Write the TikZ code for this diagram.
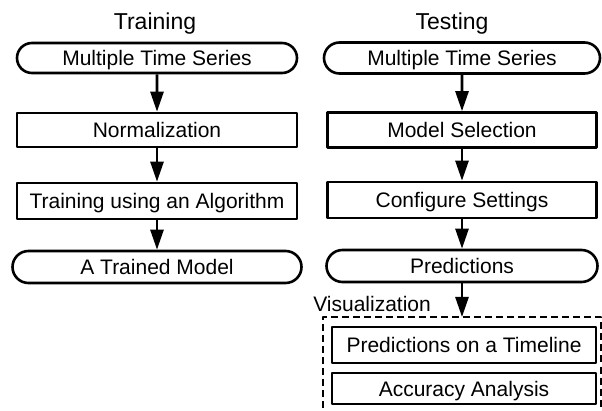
\documentclass[tikz,border=0pt]{standalone}
\usepackage{fontspec}
\setmainfont{Liberation Sans}
\usepackage{tikz}
\usetikzlibrary{positioning,arrows.meta,shapes.misc}
\tikzset{
  boxfont/.style={font=\fontsize{21}{25}\selectfont, text height=15pt, text depth=0pt},
  term/.style={draw, rounded rectangle, inner sep=0pt, boxfont},
  proc/.style={draw, rectangle, inner sep=0pt, boxfont},
  head/.style={font=\fontsize{23}{27}\selectfont, anchor=base},
  flow/.style={-{Triangle[length=20pt, width=13pt]}}
}

\begin{document}
\begin{tikzpicture}[x=1pt, y=-1pt, line width=2.6pt, line join=round]
  \useasboundingbox (0,0) rectangle (602,411);
  \clip (0,0) rectangle (602,411);
  % training column
  \node[head] (train) at (155,30) {Training};
  \node[term, minimum width=280pt, minimum height=30pt] (tin) at (157,58) {Multiple Time Series};
  \node[proc, minimum width=280pt, minimum height=34pt] (norm) at (157,130) {Normalization};
  \node[proc, minimum width=280pt, minimum height=36pt] (algo) at (157,201) {Training using an Algorithm};
  \node[term, minimum width=289pt, minimum height=32pt] (model) at (157,267) {A Trained Model};
  \draw[flow] (tin) -- (norm);
  \draw[flow] (norm) -- (algo);
  \draw[flow] (algo) -- (model);
  % testing column
  \node[head] (test) at (452,30) {Testing};
  \node[term, minimum width=276pt, minimum height=31pt] (sin) at (462,58) {Multiple Time Series};
  \node[proc, minimum width=269pt, minimum height=35pt] (select) at (462,130) {Model Selection};
  \node[proc, minimum width=269pt, minimum height=36pt] (config) at (462,200) {Configure Settings};
  \node[term, minimum width=271pt, minimum height=32pt] (pred) at (462,266) {Predictions};
  \draw[flow] (sin) -- (select);
  \draw[flow] (select) -- (config);
  \draw[flow] (config) -- (pred);
  % visualization frame
  \node[boxfont, anchor=base west, inner sep=0pt] (vis) at (312,312) {Visualization};
  \draw[line width=2pt, dash pattern=on 7pt off 4pt] (323,430) -- (323,317) -- (600.5,317) -- (600.5,430);
  \coordinate (vtop) at (462,317);
  \draw[flow] (pred) -- (vtop);
  \node[proc, minimum width=264pt, minimum height=36pt] (line) at (464,345) {Predictions on a Timeline};
  \node[proc, minimum width=264pt, minimum height=31pt] (acc) at (464,388.5) {Accuracy Analysis};
\end{tikzpicture}
\end{document}
